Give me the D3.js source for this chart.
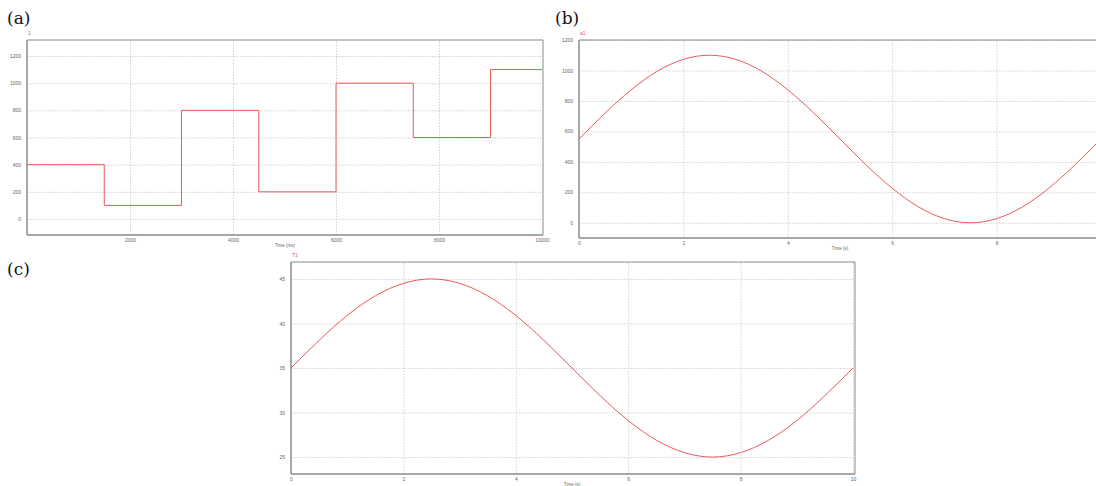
<!DOCTYPE html>
<html>
<head>
<meta charset="utf-8">
<script src="https://cdn.jsdelivr.net/npm/d3@7"></script>
<style>
  body { margin: 0; background: #fff; }
  svg { display: block; }
  .tick text { font-family: "Liberation Sans", sans-serif; font-size: 5px; fill: #666; }
  .grid line { stroke: #d0d0d0; stroke-dasharray: 1.5,1.5; }
  .grid path { display: none; }
</style>
</head>
<body>
<div id="chart"></div>
<script>
// panel (a): step input, time in ms
const stepTimes = [0, 1500, 3000, 4500, 6000, 7500, 9000, 10000]
const stepValues = [400, 100, 800, 200, 1000, 600, 1100, 1100]
const aXTicks = [2000, 4000, 6000, 8000, 10000]
const aYTicks = [0, 200, 400, 600, 800, 1000, 1200]

// panels (b) and (c): sampled curves, time in s
const sineTimes = [0, 0.5, 1, 1.5, 2, 2.5, 3, 3.5, 4, 4.5, 5, 5.5, 6, 6.5, 7, 7.5, 8, 8.5, 9, 9.5, 10]
const bValues = [550, 720, 873, 995, 1073, 1100, 1073, 995, 873, 720, 550, 380, 227, 105, 27, 0, 27, 105, 227, 380, 550]
const bXTicks = [0, 2, 4, 6, 8]
const bYTicks = [0, 200, 400, 600, 800, 1000, 1200]
const cValues = [35, 38.1, 40.9, 43.1, 44.5, 45, 44.5, 43.1, 40.9, 38.1, 35, 31.9, 29.1, 26.9, 25.5, 25, 25.5, 26.9, 29.1, 31.9, 35]
const cXTicks = [0, 2, 4, 6, 8, 10]
const cYTicks = [25, 30, 35, 40, 45]

const svg = d3.select("#chart").append("svg")
  .attr("width", 1096)
  .attr("height", 486)

const red = "#ec5a58"

function panel(p) {
  const g = svg.append("g")
  const x = d3.scaleLinear().domain(p.xDomain).range([p.left, p.left + p.xSpan])
  const y = d3.scaleLinear().domain(p.yDomain).range([p.bottom, p.top])

  // grid
  g.append("g").attr("class", "grid")
    .attr("transform", `translate(${p.left},0)`)
    .call(d3.axisLeft(y).tickValues(p.yTicks).tickSize(-(p.right - p.left)).tickFormat(""))
  g.append("g").attr("class", "grid")
    .attr("transform", `translate(0,${p.bottom})`)
    .call(d3.axisBottom(x).tickValues(p.xTicks.filter(t => x(t) > p.left + 1 && x(t) < p.right - 1))
      .tickSize(-(p.bottom - p.top)).tickFormat(""))

  // tick labels
  const ya = g.append("g")
    .attr("transform", `translate(${p.left},0)`)
    .call(d3.axisLeft(y).tickValues(p.yTicks).tickSize(0).tickPadding(6).tickFormat(d3.format("d")))
  ya.select(".domain").remove()
  const xa = g.append("g")
    .attr("transform", `translate(0,${p.bottom})`)
    .call(d3.axisBottom(x).tickValues(p.xTicks).tickSize(0).tickPadding(3).tickFormat(d3.format("d")))
  xa.select(".domain").remove()

  // frame
  g.append("line").attr("x1", p.left).attr("x2", p.right).attr("y1", p.top).attr("y2", p.top)
    .attr("stroke", "#8a8a8a").attr("stroke-width", 1)
  if (p.rightBorder) {
    g.append("line").attr("x1", p.right).attr("x2", p.right).attr("y1", p.top).attr("y2", p.bottom)
      .attr("stroke", "#8a8a8a").attr("stroke-width", 1)
  }
  g.append("line").attr("x1", p.left).attr("x2", p.left).attr("y1", p.top).attr("y2", p.bottom)
    .attr("stroke", "#8a8a8a").attr("stroke-width", 1.5)
  g.append("line").attr("x1", p.left).attr("x2", p.right).attr("y1", p.bottom).attr("y2", p.bottom)
    .attr("stroke", "#8a8a8a").attr("stroke-width", 1.5)

  // data line
  const line = d3.line()
    .x(d => x(d[0]))
    .y(d => y(d[1]))
    .curve(p.curve)
  g.append("path")
    .datum(d3.zip(p.xs, p.ys))
    .attr("fill", "none")
    .attr("stroke", red)
    .attr("stroke-width", 1)
    .attr("d", line)

  // texts
  g.append("text").attr("x", p.left + 1).attr("y", p.top - 5)
    .attr("font-family", "Liberation Sans, sans-serif").attr("font-size", 5)
    .attr("fill", red).text(p.name)
  g.append("text").attr("x", p.xLabelX).attr("y", p.bottom + 12)
    .attr("text-anchor", "middle")
    .attr("font-family", "Liberation Sans, sans-serif").attr("font-size", 4.5)
    .attr("fill", "#666").text(p.xLabel)
  g.append("text").attr("x", p.tagX).attr("y", p.tagY)
    .attr("font-family", "DejaVu Serif, serif").attr("font-size", 17)
    .attr("fill", "#111").text(p.tag)
}

panel({
  tag: "(a)", tagX: 7, tagY: 24, name: "1",
  left: 27, right: 543, top: 40, bottom: 235, xSpan: 515,
  xDomain: [0, 10000], yDomain: [-118, 1318],
  xTicks: aXTicks, yTicks: aYTicks,
  xs: stepTimes, ys: stepValues, curve: d3.curveStepAfter,
  xLabel: "Time (ms)", xLabelX: 285, rightBorder: true
})

panel({
  tag: "(b)", tagX: 555, tagY: 24, name: "a1",
  left: 579, right: 1096, top: 40, bottom: 238, xSpan: 522,
  xDomain: [0, 10], yDomain: [-100, 1200],
  xTicks: bXTicks, yTicks: bYTicks,
  xs: sineTimes, ys: bValues, curve: d3.curveNatural,
  xLabel: "Time (s)", xLabelX: 840, rightBorder: false
})

panel({
  tag: "(c)", tagX: 7, tagY: 275, name: "T1",
  left: 291, right: 855, top: 262, bottom: 474, xSpan: 562,
  xDomain: [0, 10], yDomain: [23.1, 46.9],
  xTicks: cXTicks, yTicks: cYTicks,
  xs: sineTimes, ys: cValues, curve: d3.curveNatural,
  xLabel: "Time (s)", xLabelX: 572, rightBorder: true
})
</script>
</body>
</html>
